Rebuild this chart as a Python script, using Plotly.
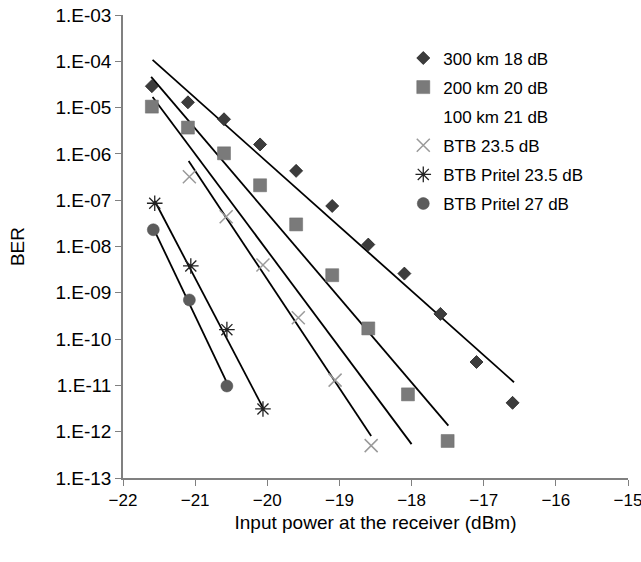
import plotly.graph_objects as go

# measured points (dBm, BER)
x_300 = [-21.6, -21.1, -20.6, -20.1, -19.6, -19.1, -18.6, -18.1, -17.6, -17.1, -16.6]
ber_300 = [2.9e-5, 1.3e-5, 5.6e-6, 1.6e-6, 4.3e-7, 7.5e-8, 1.1e-8, 2.6e-9, 3.5e-10, 3.2e-11, 4.2e-12]

x_200 = [-21.6, -21.1, -20.6, -20.1, -19.6, -19.1, -18.6, -18.05, -17.5]
ber_200 = [1.05e-5, 3.7e-6, 1.03e-6, 2.1e-7, 3.0e-8, 2.4e-9, 1.7e-10, 6.4e-12, 6.3e-13]

x_btb = [-21.08, -20.57, -20.06, -19.57, -19.06, -18.56]
ber_btb = [3.2e-7, 4.4e-8, 4.0e-9, 2.9e-10, 1.3e-11, 5.0e-13]

x_pritel235 = [-21.56, -21.06, -20.56, -20.06]
ber_pritel235 = [8.6e-8, 3.8e-9, 1.6e-10, 3.1e-12]

x_pritel27 = [-21.58, -21.08, -20.56]
ber_pritel27 = [2.3e-8, 7.0e-10, 9.7e-12]

# fitted lines (start, end)
fit_300_x = [-21.59, -16.58]
fit_300_y = [1.07e-4, 1.17e-11]
fit_200_x = [-21.61, -17.49]
fit_200_y = [4.6e-5, 1.35e-12]
fit_100_x = [-21.59, -18.0]
fit_100_y = [1.7e-5, 5.4e-13]
fit_btb_x = [-21.09, -18.56]
fit_btb_y = [7.0e-7, 8.1e-13]
fit_p235_x = [-21.56, -20.06]
fit_p235_y = [9.6e-8, 3.3e-12]
fit_p27_x = [-21.58, -20.55]
fit_p27_y = [2.5e-8, 1.07e-11]

ytick_vals = [1e-13, 1e-12, 1e-11, 1e-10, 1e-9, 1e-8, 1e-7, 1e-6, 1e-5, 1e-4, 1e-3]
ytick_text = ["1.E-13", "1.E-12", "1.E-11", "1.E-10", "1.E-09", "1.E-08",
              "1.E-07", "1.E-06", "1.E-05", "1.E-04", "1.E-03"]
xtick_vals = [-22, -21, -20, -19, -18, -17, -16, -15]

fig = go.Figure()

# fit lines, no legend
for fx, fy in [(fit_300_x, fit_300_y), (fit_200_x, fit_200_y), (fit_100_x, fit_100_y),
               (fit_btb_x, fit_btb_y), (fit_p235_x, fit_p235_y), (fit_p27_x, fit_p27_y)]:
    fig.add_trace(go.Scatter(x=fx, y=fy, mode="lines", showlegend=False,
                             line=dict(color="black", width=1.8), hoverinfo="skip"))

fig.add_trace(go.Scatter(x=x_300, y=ber_300, mode="markers", name="300 km 18 dB", legendgroup="a",
                         marker=dict(symbol="diamond", size=10, color="#3c3c3c",
                                     line=dict(color="#222222", width=0.8))))
fig.add_trace(go.Scatter(x=x_200, y=ber_200, mode="markers", name="200 km 20 dB", legendgroup="b",
                         marker=dict(symbol="square", size=13, color="#7a7a7a",
                                     line=dict(color="#6a6a6a", width=0.5))))
fig.add_trace(go.Scatter(x=[None], y=[None], mode="markers", name="100 km 21 dB", legendgroup="c",
                         marker=dict(symbol="circle", size=10, color="rgba(0,0,0,0)")))
fig.add_trace(go.Scatter(x=x_btb, y=ber_btb, mode="markers", name="BTB 23.5 dB", legendgroup="d",
                         marker=dict(symbol="x-thin-open", size=13, color="#9a9a9a",
                                     line=dict(color="#9a9a9a", width=1.5))))
fig.add_trace(go.Scatter(x=x_pritel235, y=ber_pritel235, mode="markers", name="BTB Pritel 23.5 dB",
                         legendgroup="e",
                         marker=dict(symbol="asterisk-open", size=13, color="#222222",
                                     line=dict(color="#222222", width=1.3))))
fig.add_trace(go.Scatter(x=x_pritel27, y=ber_pritel27, mode="markers", name="BTB Pritel 27 dB",
                         legendgroup="f",
                         marker=dict(symbol="circle", size=12, color="#5c5c5c",
                                     line=dict(color="#4a4a4a", width=0.5))))

fig.update_layout(
    template="none",
    width=641, height=562,
    margin=dict(l=123, r=13, t=15, b=84),
    paper_bgcolor="white", plot_bgcolor="white",
    font=dict(family="Liberation Sans, Arial, sans-serif", size=19, color="black"),
    legend=dict(x=0.555, y=0.945, xanchor="left", yanchor="top",
                traceorder="grouped", tracegroupgap=4,
                font=dict(size=17), itemwidth=30, bgcolor="rgba(0,0,0,0)"),
    showlegend=True,
)

fig.update_xaxes(range=[-22, -15], tickvals=xtick_vals, ticks="outside", ticklen=6,
                 tickcolor="#808080", showline=True, linecolor="#808080", linewidth=1.5,
                 showgrid=False, zeroline=False, automargin=False,
                 tickfont=dict(size=17), ticklabeloverflow="allow",
                 title=dict(text="Input power at the receiver (dBm)", font=dict(size=19), standoff=7))
fig.update_yaxes(type="log", range=[-13, -3], tickvals=ytick_vals, ticktext=ytick_text,
                 ticks="outside", ticklen=6, tickcolor="#808080", showline=True,
                 linecolor="#808080", linewidth=1.5, showgrid=False, zeroline=False,
                 automargin=False, ticklabeloverflow="allow",
                 title=dict(text="BER", font=dict(size=19), standoff=26))

# drop the default body margin so the figure fills the window exactly
fig.write_html("out.html", config={"displayModeBar": False},
               post_script="document.body.style.margin='0';")
